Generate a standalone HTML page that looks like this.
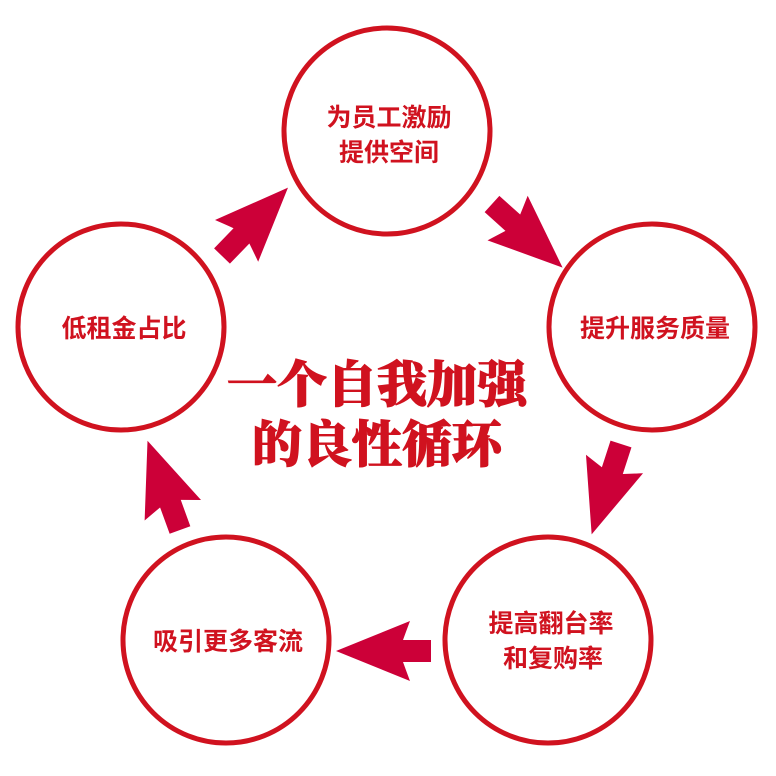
<!DOCTYPE html>
<html><head><meta charset="utf-8"><style>
body{margin:0;background:#fff}
svg{display:block}
.c{fill:none;stroke:#d0121f;stroke-width:5}
.t{fill:#d0121f;font-family:"Liberation Sans","Noto Sans CJK SC",sans-serif;font-size:25px;font-weight:bold;text-anchor:middle}
.h{fill:#d0121f;stroke:#d0121f;stroke-width:1;font-family:"Noto Serif CJK SC","Liberation Serif",serif;font-size:50px;font-weight:900;text-anchor:middle}
.a{fill:#cc0038}
</style></head><body>
<svg width="776" height="776" viewBox="0 0 776 776">
<circle class="c" cx="387" cy="131" r="103"/>
<circle class="c" cx="652" cy="327" r="103"/>
<circle class="c" cx="548" cy="640" r="103"/>
<circle class="c" cx="226" cy="640" r="103"/>
<circle class="c" cx="121" cy="327" r="103"/>
<defs><path id="ar" d="M0,-11 L28,-11 Q24,-22 21,-30 L95,0 L21,30 Q24,22 28,11 L0,11Z"/></defs>
<use href="#ar" class="a" transform="translate(222,256) rotate(-46)"/>
<use href="#ar" class="a" transform="translate(492,204) rotate(42)"/>
<use href="#ar" class="a" transform="translate(621,444) rotate(108)"/>
<use href="#ar" class="a" transform="translate(431,651) rotate(180)"/>
<use href="#ar" class="a" transform="translate(180,530) rotate(-110)"/>
<text class="t" x="389" y="126">为员工激励</text>
<text class="t" x="389" y="161">提供空间</text>
<text class="t" x="655" y="337">提升服务质量</text>
<text class="t" x="551" y="632">提高翻台率</text>
<text class="t" x="553" y="667">和复购率</text>
<text class="t" x="228" y="650">吸引更多客流</text>
<text class="t" x="124" y="337">低租金占比</text>
<text class="h" x="377" y="402">一个自我加强</text>
<text class="h" x="377" y="462">的良性循环</text>
</svg>
</body></html>
